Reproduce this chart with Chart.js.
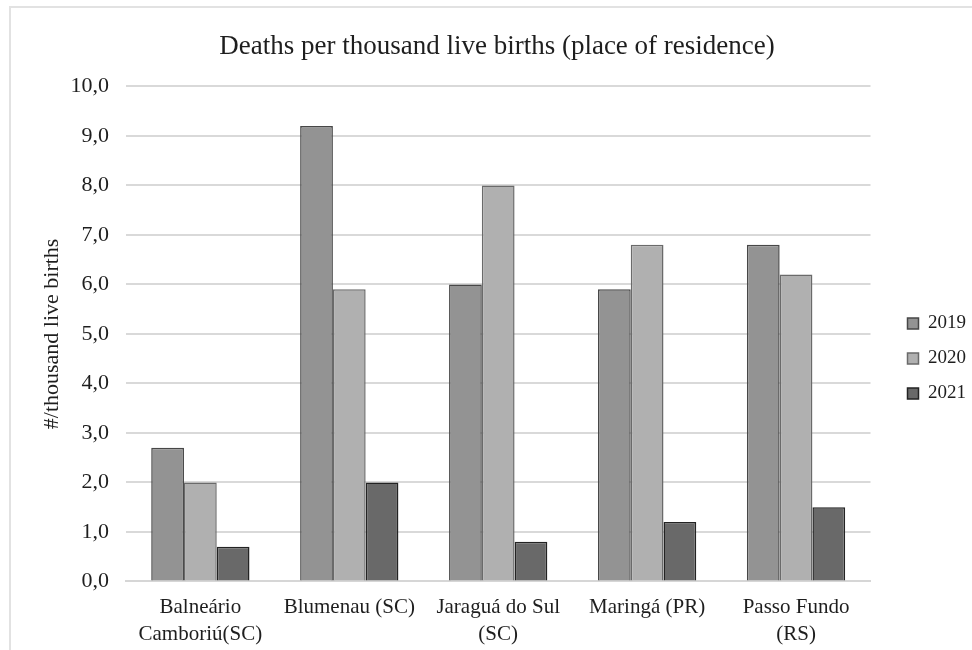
<!DOCTYPE html>
<html>
<head>
<meta charset="utf-8">
<script src="https://cdn.jsdelivr.net/npm/chart.js@4"></script>
<style>
  html, body { margin: 0; padding: 0; background: #fff; }
  #wrap { position: relative; width: 972px; height: 650px; }
  #frame { position: absolute; left: 9px; top: 6px; right: -4px; bottom: -4px;
           border-left: 2px solid #e2e2e2; border-top: 2px solid #e2e2e2; pointer-events: none; }
  canvas { position: absolute; left: 0; top: 0; }
</style>
</head>
<body>
<div id="wrap">
  <canvas id="chart" width="972" height="650"></canvas>
  <div id="frame"></div>
</div>
<script>
// Data
const categories = [
    ['Balneário', 'Camboriú(SC)'],
    'Blumenau (SC)',
    ['Jaraguá do Sul', '(SC)'],
    'Maringá (PR)',
    ['Passo Fundo', '(RS)']
];
const years = ['2019', '2020', '2021'];
const values2019 = [2.7, 9.2, 6.0, 5.9, 6.8];
const values2020 = [2.0, 5.9, 8.0, 6.8, 6.2];
const values2021 = [0.7, 2.0, 0.8, 1.2, 1.5];
const yTicks = [0, 1, 2, 3, 4, 5, 6, 7, 8, 9, 10];

const fillColors = ['#939393', '#b0b0b0', '#696969'];
const edgeColors = ['#474747', '#6a6a6a', '#232323'];
const serif = "'Liberation Serif', 'DejaVu Serif', serif";

const series = [values2019, values2020, values2021];

// nudge the legend block to where the reference puts it
const legendShift = {
    id: 'legendShift',
    afterLayout(chart) {
        const lg = chart.legend;
        if (!lg) return;
        lg.left += 21; lg.right += 21;
        lg.top += 20; lg.bottom += 20;
    }
};

const ctx = document.getElementById('chart').getContext('2d');
new Chart(ctx, {
    type: 'bar',
    data: {
        labels: categories,
        datasets: series.map((data, i) => ({
            label: years[i],
            data: data,
            backgroundColor: fillColors[i],
            borderColor: edgeColors[i],
            borderWidth: 1.5,
            borderSkipped: 'bottom',
            categoryPercentage: 0.66,
            barPercentage: 1.0
        }))
    },
    plugins: [legendShift],
    options: {
        responsive: false,
        animation: false,
        layout: {
            padding: { left: 39, right: 17, top: 17, bottom: -10 }
        },
        plugins: {
            title: {
                display: true,
                text: 'Deaths per thousand live births (place of residence)',
                color: '#1e1e1e',
                font: { family: serif, size: 27, weight: 'normal' },
                padding: { top: 14, bottom: 23 }
            },
            legend: {
                position: 'right',
                labels: {
                    color: '#1e1e1e',
                    font: { family: serif, size: 19 },
                    boxWidth: 11,
                    boxHeight: 11,
                    padding: 16
                }
            },
            tooltip: { enabled: false }
        },
        scales: {
            x: {
                grid: { display: false, drawTicks: false },
                border: { display: true, color: '#d6d6d6', width: 2 },
                ticks: {
                    color: '#1e1e1e',
                    font: { family: serif, size: 21, lineHeight: 1.3 },
                    padding: 12,
                    maxRotation: 0
                }
            },
            y: {
                min: 0,
                max: 10,
                afterBuildTicks: axis => {
                    axis.ticks = yTicks.map(v => ({ value: v }));
                },
                grid: { color: '#d9d9d9', lineWidth: 2, drawTicks: false },
                border: { display: false },
                ticks: {
                    color: '#1e1e1e',
                    font: { family: serif, size: 22 },
                    padding: 17,
                    callback: v => v.toFixed(1).replace('.', ',')
                },
                title: {
                    display: true,
                    text: '#/thousand live births',
                    color: '#1e1e1e',
                    font: { family: serif, size: 22 },
                    padding: { top: 0, bottom: -12 }
                }
            }
        }
    }
});
</script>
</body>
</html>
